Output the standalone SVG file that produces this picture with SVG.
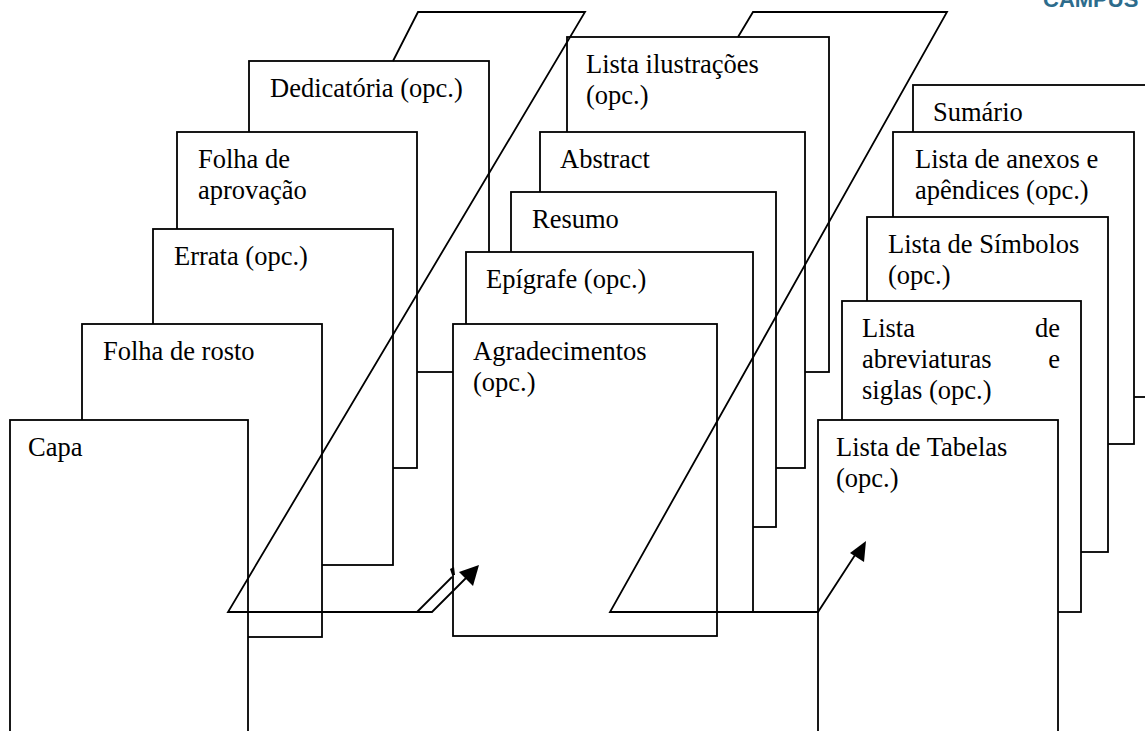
<svg xmlns="http://www.w3.org/2000/svg" width="1145" height="731" viewBox="0 0 1145 731">
<defs>
<style>
.box{fill:#fff;stroke:#000;stroke-width:1.8}
.ln{fill:none;stroke:#000;stroke-width:1.8}
.t{font-family:"Liberation Serif","Times New Roman",serif;font-size:26.5px;fill:#000}
.hd{font-family:"Liberation Sans",Arial,sans-serif;font-size:22px;font-weight:bold;fill:#2d6c8c}
</style>
</defs>
<rect width="1145" height="731" fill="#fff"/>
<text class="hd" x="1043" y="7">CAMPUS</text>

<!-- left group (back to front) -->
<g id="dedicatoria"><rect class="box" x="249" y="61" width="240" height="311"/><text class="t" x="270" y="97">Dedicatória (opc.)</text></g>
<g id="folha-aprovacao"><rect class="box" x="177" y="132" width="240" height="336"/><text class="t" x="198" y="168">Folha de</text><text class="t" x="198" y="199">aprovação</text></g>
<g id="errata"><rect class="box" x="153" y="229" width="240" height="336"/><text class="t" x="174" y="265">Errata (opc.)</text></g>
<g id="folha-rosto"><rect class="box" x="82" y="324" width="240" height="313"/><text class="t" x="103" y="360">Folha de rosto</text></g>
<g id="capa"><rect class="box" x="10" y="420" width="238" height="340"/><text class="t" x="28" y="456">Capa</text></g>

<!-- middle group -->
<g id="lista-ilustracoes"><rect class="box" x="567" y="37" width="262" height="335"/><text class="t" x="586" y="73">Lista ilustrações</text><text class="t" x="586" y="104">(opc.)</text></g>
<g id="abstract"><rect class="box" x="540" y="132" width="265" height="336"/><text class="t" x="560" y="168">Abstract</text></g>
<g id="resumo"><rect class="box" x="511" y="192" width="265" height="335"/><text class="t" x="532" y="228">Resumo</text></g>
<g id="epigrafe"><rect class="box" x="466" y="252" width="287" height="360"/><text class="t" x="486" y="288">Epígrafe (opc.)</text></g>
<g id="agradecimentos"><rect class="box" x="453" y="324" width="264" height="312"/><text class="t" x="473" y="360">Agradecimentos</text><text class="t" x="473" y="391">(opc.)</text></g>

<!-- right group -->
<g id="sumario"><rect class="box" x="913" y="85" width="260" height="312"/><text class="t" x="933" y="121">Sumário</text></g>
<g id="lista-anexos"><rect class="box" x="893" y="132" width="241" height="312"/><text class="t" x="915" y="168">Lista de anexos e</text><text class="t" x="915" y="199">apêndices (opc.)</text></g>
<g id="lista-simbolos"><rect class="box" x="867" y="217" width="241" height="335"/><text class="t" x="888" y="253">Lista de Símbolos</text><text class="t" x="888" y="284">(opc.)</text></g>
<g id="lista-abreviaturas"><rect class="box" x="842" y="301" width="239" height="311"/><text class="t" x="862" y="337">Lista</text><text class="t" x="1060" y="337" text-anchor="end">de</text><text class="t" x="862" y="368">abreviaturas</text><text class="t" x="1060" y="368" text-anchor="end">e</text><text class="t" x="862" y="399">siglas (opc.)</text></g>
<g id="lista-tabelas"><rect class="box" x="818" y="420" width="240" height="340"/><text class="t" x="836" y="456">Lista de Tabelas</text><text class="t" x="836" y="487">(opc.)</text></g>

<!-- connectors -->
<g id="connectors">
<polyline class="ln" points="393,61 418,12 585,12 228,612 432,612 469,575"/>
<line class="ln" x1="417" y1="612" x2="452" y2="577"/>
<polygon points="450,569 454,567 455,575 452,575" fill="#000"/>
<polygon points="479,565 473,586 459,572" fill="#000"/>
<polyline class="ln" points="738,37 753,12 947,12 610,612 818,612 857,552"/>
<polygon points="866,541 864,562 850,553" fill="#000"/>
</g>
</svg>
